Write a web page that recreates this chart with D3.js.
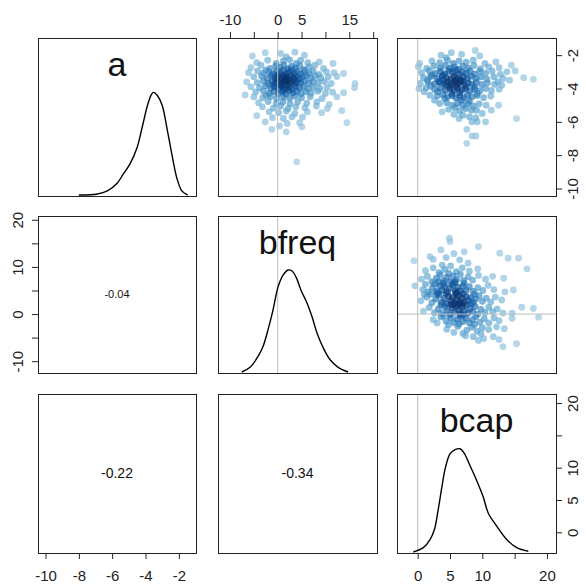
<!DOCTYPE html>
<html>
<head>
<meta charset="utf-8">
<script src="https://cdn.jsdelivr.net/npm/d3@7"></script>
<style>
  body { margin: 0; background: #fff; }
  text { font-family: "Liberation Sans", Arial, sans-serif; }
</style>
</head>
<body>
<script>

// variable names on the diagonal
var varNames = ["a", "bfreq", "bcap"];

// axis ticks and the labels R kept (overlapping ones dropped)
var aTicks = [-10, -8, -6, -4, -2];
var bfreqTicks = [-10, -5, 0, 5, 10, 15, 20];
var bfreqTopLabels = [-10, 0, 5, 15];
var bfreqLeftLabels = [-10, 0, 10, 20];
var bcapTicks = [0, 5, 10, 15, 20];
var bcapLabels = [0, 5, 10, 20];

// correlations shown in the lower panels
var corrValues = ["-0.04", "-0.22", "-0.34"];
var corrCells = [[1, 0], [2, 0], [2, 1]];

// density curves: [value, density relative to peak]
var aDensity = [[-8.0, 0], [-6.88, 0.01], [-6.29, 0.04], [-5.7, 0.115], [-5.35, 0.2], [-4.94, 0.3],
  [-4.53, 0.45], [-4.17, 0.68], [-3.88, 0.875], [-3.64, 0.98], [-3.53, 1.0], [-3.29, 0.97],
  [-3.0, 0.875], [-2.7, 0.64], [-2.41, 0.39], [-2.11, 0.16], [-1.82, 0.04], [-1.47, 0]];
var bfreqDensity = [[-7.53, 0], [-5.79, 0.046], [-4.11, 0.153], [-3.07, 0.25], [-2.02, 0.415],
  [-0.97, 0.61], [0.08, 0.835], [1.13, 0.95], [2.18, 1.0], [3.01, 0.99], [3.85, 0.93], [4.9, 0.8],
  [6.16, 0.675], [7.21, 0.54], [8.25, 0.38], [9.51, 0.24], [10.98, 0.12], [12.66, 0.046], [14.75, 0]];
var bcapDensity = [[-0.68, 0], [0.87, 0.042], [1.91, 0.12], [2.6, 0.22], [3.2, 0.42], [3.72, 0.62], [4.3, 0.82],
  [5.0, 0.95], [5.78, 0.99], [6.55, 1.0], [7.17, 0.96], [8.1, 0.835], [9.14, 0.69], [10.16, 0.53],
  [10.93, 0.375], [12.23, 0.25], [13.78, 0.12], [15.33, 0.042], [17.12, 0.007]];

// scatter points: [x, y]
var bfreqVsA = [
  [-2.6,-1.85],[0.6,-1.9],[3.6,-1.82],[5.6,-2.0],[1.8,-2.1],[-5.3,-2.05],
  [-4.4,-2.45],[-2.1,-2.3],[-0.3,-2.5],[1.2,-2.35],[2.5,-2.28],[3.9,-2.5],[4.8,-2.32],[6.3,-2.45],[8.7,-2.4],[11.6,-2.5],
  [-5.6,-2.75],[-3.5,-2.6],[-1.6,-2.8],[-0.4,-2.65],[0.5,-2.72],[1.3,-2.6],[2.1,-2.82],[2.9,-2.68],[3.7,-2.78],[4.6,-2.62],
  [5.5,-2.85],[6.6,-2.7],[7.8,-2.6],[9.6,-2.8],[13.8,-3.1],[-2.5,-2.9],
  [-6.1,-3.05],[-4.2,-2.95],[-3.0,-3.1],[-1.9,-2.98],[-1.0,-3.12],[-0.2,-2.95],[0.5,-3.05],[1.1,-2.92],[1.7,-3.15],[2.3,-3.0],
  [2.9,-2.9],[3.4,-3.1],[4.1,-2.97],[4.8,-3.12],[5.6,-2.96],[6.5,-3.08],[7.4,-2.94],[8.6,-3.15],[10.2,-3.0],[11.8,-3.05],[0.0,-3.2],
  [-5.0,-3.3],[-3.4,-3.25],[-2.2,-3.38],[-1.3,-3.22],[-0.6,-3.35],[0.1,-3.28],[0.7,-3.4],[1.2,-3.25],[1.8,-3.33],[2.3,-3.42],
  [2.8,-3.24],[3.3,-3.36],[3.9,-3.27],[4.5,-3.4],[5.2,-3.3],[6.0,-3.22],[6.9,-3.38],[7.8,-3.26],[9.0,-3.35],[10.6,-3.3],
  [12.4,-3.28],[1.5,-3.48],[-0.2,-3.45],[3.6,-3.5],
  [-6.5,-3.6],[-4.3,-3.65],[-3.0,-3.55],[-2.0,-3.7],[-1.2,-3.58],[-0.5,-3.66],[0.2,-3.55],[0.8,-3.7],[1.3,-3.6],[1.9,-3.52],
  [2.4,-3.68],[2.9,-3.58],[3.5,-3.72],[4.1,-3.6],[4.8,-3.66],[5.6,-3.55],[6.5,-3.7],[7.4,-3.6],[8.5,-3.65],[9.8,-3.58],
  [11.2,-3.7],[16.2,-3.7],[0.5,-3.8],[2.0,-3.82],[-0.9,-3.8],
  [-5.6,-3.9],[-3.8,-3.95],[-2.5,-3.85],[-1.4,-4.0],[-0.6,-3.9],[0.2,-3.98],[0.9,-3.88],[1.6,-4.02],[2.3,-3.92],[3.0,-4.05],
  [3.7,-3.88],[4.5,-3.97],[5.4,-3.9],[6.4,-4.02],[7.5,-3.92],[8.8,-4.0],[10.3,-3.95],[13.8,-4.25],[16.1,-3.95],[-6.8,-4.39],[1.2,-4.1],
  [-4.6,-4.2],[-3.0,-4.15],[-1.8,-4.28],[-0.8,-4.18],[0.1,-4.3],[0.9,-4.2],[1.7,-4.32],[2.4,-4.15],[3.2,-4.26],[4.0,-4.18],
  [4.9,-4.3],[5.9,-4.2],[7.0,-4.28],[8.4,-4.16],[10.0,-4.3],[11.5,-4.22],[-2.4,-4.4],
  [-5.0,-4.5],[-3.1,-4.55],[-1.5,-4.48],[-0.2,-4.6],[1.2,-4.5],[2.5,-4.58],[3.6,-4.45],[5.0,-4.55],[6.8,-4.5],[9.3,-4.6],[12.4,-4.5],
  [-4.0,-4.85],[-2.0,-4.78],[-0.3,-4.9],[1.1,-4.8],[2.6,-4.92],[4.2,-4.8],[6.1,-4.88],[8.2,-4.8],[10.8,-4.95],
  [-3.2,-5.1],[-0.9,-5.18],[0.6,-5.05],[2.2,-5.2],[3.8,-5.1],[5.7,-5.15],[8.1,-5.05],[10.4,-5.2],
  [-4.4,-5.63],[-1.8,-5.4],[0.2,-5.45],[1.8,-5.35],[3.6,-5.5],[6.2,-5.4],[9.2,-5.45],[13.4,-5.33],
  [-1.1,-5.75],[1.2,-5.8],[3.0,-5.7],[5.2,-5.72],
  [-2.6,-6.0],[2.0,-6.1],[4.6,-6.05],[14.5,-6.05],
  [5.05,-6.3],[0.4,-6.25],[-1.2,-6.45],[1.8,-6.6],
  [4.0,-8.4]
];

var bcapVsA = [
  [3.6,-2.0],[5.2,-1.85],[6.8,-1.95],[8.9,-1.72],[9.6,-2.05],[4.4,-2.15],
  [0.3,-2.5],[2.2,-2.35],[3.4,-2.45],[4.6,-2.3],[5.5,-2.5],[6.4,-2.35],[7.5,-2.42],[8.6,-2.3],[10.4,-2.5],[12.1,-2.4],
  [0.1,-2.69],[1.4,-2.8],[2.5,-2.65],[3.5,-2.78],[4.3,-2.62],[5.0,-2.8],[5.7,-2.7],[6.3,-2.85],[7.0,-2.66],[7.8,-2.78],
  [8.7,-2.62],[9.7,-2.82],[11.0,-2.7],[12.6,-2.75],[15.1,-2.95],[14.5,-2.6],
  [0.6,-3.05],[1.8,-2.95],[2.7,-3.1],[3.5,-2.98],[4.2,-3.12],[4.8,-2.94],[5.4,-3.05],[5.9,-2.92],[6.4,-3.15],[6.9,-3.0],
  [7.5,-3.1],[8.1,-2.95],[8.8,-3.12],[9.6,-2.98],[10.5,-3.08],[11.5,-2.96],[12.8,-3.15],[16.4,-3.35],[2.2,-3.2],[13.8,-3.0],[3.9,-3.22],
  [0.9,-3.35],[2.0,-3.28],[3.0,-3.4],[3.8,-3.25],[4.5,-3.35],[5.1,-3.45],[5.6,-3.28],[6.1,-3.38],[6.6,-3.48],[7.1,-3.3],
  [7.7,-3.42],[8.3,-3.26],[9.0,-3.4],[9.8,-3.3],[10.7,-3.44],[11.8,-3.3],[13.2,-3.4],[5.8,-3.52],[4.0,-3.5],[6.9,-3.55],
  [1.5,-3.5],[3.3,-3.58],[12.4,-3.6],[14.2,-3.5],
  [0.4,-3.7],[1.6,-3.6],[2.6,-3.72],[3.4,-3.62],[4.1,-3.7],[4.7,-3.6],[5.2,-3.75],[5.7,-3.64],[6.2,-3.72],[6.7,-3.6],
  [7.2,-3.78],[7.8,-3.66],[8.4,-3.74],[9.1,-3.62],[9.9,-3.76],[10.8,-3.66],[11.9,-3.75],[17.9,-3.45],[13.0,-3.8],[6.0,-3.85],
  [5.0,-3.9],[7.5,-3.9],[2.0,-3.85],[4.4,-3.8],[8.8,-3.9],
  [0.2,-4.0],[1.3,-3.95],[2.6,-4.05],[3.5,-3.98],[4.3,-4.1],[5.0,-4.0],[5.6,-4.12],[6.2,-3.98],[6.8,-4.1],[7.4,-4.02],
  [8.1,-4.14],[8.8,-4.04],[9.6,-4.15],[10.5,-4.0],[11.4,-4.12],[12.6,-4.05],[3.1,-4.2],[6.5,-4.25],[5.3,-4.3],[9.2,-4.3],[1.0,-4.2],
  [1.9,-4.4],[3.0,-4.45],[3.9,-4.38],[4.6,-4.5],[5.3,-4.42],[5.9,-4.55],[6.5,-4.45],[7.1,-4.55],[7.7,-4.4],[8.4,-4.5],
  [9.2,-4.42],[10.2,-4.55],[11.3,-4.45],[4.2,-4.6],[6.8,-4.7],[8.0,-4.75],[2.6,-4.7],
  [3.4,-4.9],[4.5,-4.85],[5.4,-5.0],[6.2,-4.88],[7.0,-5.0],[7.8,-4.9],[8.6,-5.05],[9.5,-4.92],[10.6,-5.0],[5.8,-5.15],
  [7.4,-5.2],[4.8,-5.25],[8.3,-5.3],[6.5,-5.35],[9.1,-5.3],[3.8,-5.4],[12.5,-5.0],[11.4,-5.3],[10.0,-5.5],
  [5.6,-5.55],[7.0,-5.6],[8.0,-5.7],[6.4,-5.8],[9.0,-5.75],[15.3,-5.81],[8.4,-6.0],[9.2,-6.0],[10.5,-6.0],
  [7.6,-6.45],[8.4,-6.85],[9.0,-6.85],[7.6,-7.29]
];

var bcapVsBfreq = [
  [13.2,-6.9],[15.3,-6.3],
  [8.6,-4.8],[10.2,-5.2],[11.7,-4.8],[9.4,-5.6],[12.6,-5.4],[7.4,-4.6],
  [4.5,-3.2],[6.2,-2.6],[7.6,-3.4],[8.4,-2.8],[9.2,-3.6],[10.0,-2.9],[11.0,-3.3],[12.2,-2.7],[5.6,-3.9],[13.4,-3.1],[7.0,-4.1],[9.8,-4.2],
  [2.4,-1.2],[3.6,-0.6],[4.4,-1.5],[5.1,-0.8],[5.6,-1.8],[6.1,-1.1],[6.6,-0.4],[7.0,-1.6],[7.5,-0.9],[8.0,-1.9],
  [8.5,-1.2],[9.0,-0.5],[9.6,-1.7],[10.3,-1.0],[11.0,-1.9],[11.8,-0.8],[12.6,-1.4],[14.6,-0.9],[18.7,-0.67],[6.4,-2.1],
  [8.8,-2.2],[4.8,-2.2],[3.0,-1.9],
  [0.9,0.6],[1.8,1.4],[2.6,0.3],[3.2,1.1],[3.7,0.2],[4.2,1.6],[4.6,0.7],[5.0,-0.1],[5.3,1.3],[5.7,0.4],
  [6.0,1.7],[6.3,0.9],[6.6,0.1],[6.9,1.5],[7.2,0.6],[7.5,1.9],[7.8,0.2],[8.1,1.2],[8.5,0.5],[8.9,1.6],
  [9.3,0.0],[9.8,1.0],[10.4,0.3],[11.0,1.4],[11.6,0.5],[12.3,1.1],[13.2,0.2],[14.6,0.2],[16.1,1.45],[17.9,1.2],
  [5.5,2.0],[6.8,2.1],[4.0,-0.3],[7.0,-0.2],[8.3,2.2],
  [0.5,2.8],[1.4,3.6],[2.2,2.4],[2.8,3.2],[3.3,4.0],[3.7,2.5],[4.1,3.3],[4.5,2.2],[4.8,3.8],[5.1,2.8],
  [5.4,3.5],[5.7,2.3],[6.0,3.1],[6.3,3.9],[6.6,2.6],[6.9,3.4],[7.2,2.4],[7.5,3.7],[7.8,2.9],[8.2,3.5],
  [8.6,2.5],[9.0,3.2],[9.5,3.9],[10.0,2.7],[10.6,3.4],[11.3,2.6],[12.0,3.6],[13.0,3.0],[3.0,4.3],[4.4,4.4],
  [5.9,4.4],[7.0,4.3],[2.0,4.2],[1.0,4.1],[8.8,4.2],[5.2,2.0],[6.4,2.1],[3.6,2.0],
  [-0.41,6.0],[0.8,5.2],[1.6,4.7],[2.3,5.6],[2.9,4.8],[3.4,6.0],[3.8,5.1],[4.2,5.8],[4.6,4.7],[5.0,5.5],
  [5.4,6.2],[5.8,4.9],[6.2,5.7],[6.6,4.8],[7.0,5.9],[7.5,5.0],[8.0,5.8],[8.6,4.8],[9.3,5.6],[10.1,5.0],
  [10.9,6.1],[11.8,5.2],[13.5,4.7],[14.8,5.1],[1.2,6.3],[2.6,6.4],[4.0,6.5],[5.6,6.6],[7.2,6.5],[3.2,4.5],[6.0,4.5],
  [0.6,7.4],[1.5,8.0],[2.2,6.9],[2.9,7.6],[3.5,8.3],[4.0,7.0],[4.5,7.8],[5.0,6.9],[5.5,8.1],[6.0,7.3],
  [6.6,8.4],[7.1,7.1],[7.8,7.9],[8.5,7.2],[9.4,8.2],[10.5,7.4],[13.3,7.6],[3.2,6.8],[5.8,6.8],[11.6,8.0],[4.8,8.6],
  [1.2,9.2],[2.4,9.8],[3.3,8.8],[4.2,9.5],[5.1,10.2],[6.0,9.0],[6.9,9.8],[8.0,9.1],[9.3,9.6],[16.9,9.6],[3.8,10.4],[7.8,10.8],
  [-0.57,11.3],[1.9,12.2],[2.4,11.6],[6.5,11.5],[4.4,12.0],[5.6,12.8],[14.0,11.85],[15.6,11.85],[12.7,12.9],[9.4,14.3],
  [4.9,16.1],[5.0,15.4],[3.6,13.6],[7.2,13.2]
];

var densities = [aDensity, bfreqDensity, bcapDensity];
var scatterSets = { "0-1": bfreqVsA, "0-2": bcapVsA, "1-2": bcapVsBfreq };

// value ranges of each variable (data range plus R's 4% padding)
var domains = [[-10.45, -0.97], [-12.5, 20.8], [-3.2, 21.4]];

var width = 585,
    height = 587;

// panel edges in pixels
var colX = [[38, 196], [218, 377], [397, 556]],
    rowY = [[38, 196], [216, 373], [394, 553]];

var blues = ["#9ECAE1", "#6BAED6", "#4292C6", "#2171B5", "#08519C", "#08306B"];

var svg = d3.select("body")
    .append("svg")
    .attr("width", width)
    .attr("height", height);

function xScale(c) {
  return d3.scaleLinear().domain(domains[c]).range(colX[c]);
}
function yScale(r) {
  return d3.scaleLinear().domain(domains[r]).range([rowY[r][1], rowY[r][0]]);
}
function fmt(labels) {
  return function(d) { return labels.indexOf(d) >= 0 ? String(d) : ""; };
}

var defs = svg.append("defs");

for (var r = 0; r < 3; r++) {
  for (var c = 0; c < 3; c++) {
    var x = xScale(c),
        y = yScale(r),
        x0 = colX[c][0], x1 = colX[c][1],
        y0 = rowY[r][0], y1 = rowY[r][1];
    var clipId = "clip" + r + c;
    defs.append("clipPath").attr("id", clipId)
      .append("rect").attr("x", x0).attr("y", y0).attr("width", x1 - x0).attr("height", y1 - y0);

    var panel = svg.append("g").attr("clip-path", "url(#" + clipId + ")");

    if (r === c) {
      // density curve on the diagonal
      var yd = d3.scaleLinear().domain([0, 1.52]).range([y1 - 1, y0 + 1]);
      if (domains[c][0] < 0 && domains[c][1] > 0) {
        panel.append("line")
          .attr("x1", x(0)).attr("x2", x(0)).attr("y1", y0).attr("y2", y1)
          .attr("stroke", "#bebebe").attr("stroke-width", 1);
      }
      panel.append("path")
        .datum(densities[c])
        .attr("fill", "none")
        .attr("stroke", "#000")
        .attr("stroke-width", 1.4)
        .attr("d", d3.line()
          .x(function(d) { return x(d[0]); })
          .y(function(d) { return yd(d[1]); })
          .curve(d3.curveCatmullRom));
      svg.append("text")
        .attr("x", (x0 + x1) / 2)
        .attr("y", y0 + 38)
        .attr("text-anchor", "middle")
        .attr("font-size", 34)
        .attr("fill", "#111")
        .text(varNames[c]);
    } else if (r < c) {
      // scatter coloured by local point density, like densCols()
      var pts = scatterSets[r + "-" + c];
      var px = pts.map(function(p) { return [x(p[0]), y(p[1])]; });
      var h = 9;
      var dens = px.map(function(p) {
        return d3.sum(px, function(q) {
          var dx = p[0] - q[0], dy = p[1] - q[1];
          return Math.exp(-(dx * dx + dy * dy) / (2 * h * h));
        });
      });
      var maxD = d3.max(dens);
      var color = d3.scaleSequential(d3.interpolateRgbBasis(blues)).domain([0, 1]);
      var order = d3.range(pts.length).sort(function(i, j) { return dens[i] - dens[j]; });

      panel.selectAll(".pt")
        .data(order)
        .enter()
        .append("circle")
        .attr("class", "pt")
        .attr("cx", function(i) { return px[i][0]; })
        .attr("cy", function(i) { return px[i][1]; })
        .attr("r", 3.4)
        .attr("fill", function(i) { return color(Math.pow(dens[i] / maxD, 1.4)); })
        .attr("fill-opacity", 0.7);

      if (domains[c][0] < 0 && domains[c][1] > 0) {
        panel.append("line")
          .attr("x1", x(0)).attr("x2", x(0)).attr("y1", y0).attr("y2", y1)
          .attr("stroke", "#bebebe").attr("stroke-width", 1);
      }
      if (domains[r][0] < 0 && domains[r][1] > 0) {
        panel.append("line")
          .attr("x1", x0).attr("x2", x1).attr("y1", y(0)).attr("y2", y(0))
          .attr("stroke", "#bebebe").attr("stroke-width", 1);
      }
    }

    // panel frame
    svg.append("rect")
      .attr("x", x0 + 0.5).attr("y", y0 + 0.5)
      .attr("width", x1 - x0).attr("height", y1 - y0)
      .attr("fill", "none")
      .attr("stroke", "#222")
      .attr("stroke-width", 1);
  }
}

// correlation text in the lower panels
corrCells.forEach(function(cell, i) {
  var r = cell[0], c = cell[1];
  svg.append("text")
    .attr("x", (colX[c][0] + colX[c][1]) / 2)
    .attr("y", (rowY[r][0] + rowY[r][1]) / 2)
    .attr("dy", "0.35em")
    .attr("text-anchor", "middle")
    .attr("font-size", Math.abs(+corrValues[i]) < 0.1 ? 11 : 14)
    .attr("fill", "#111")
    .text(corrValues[i]);
});

// axes, alternating sides like pairs()
function styleAxis(g) {
  g.select(".domain").remove();
  g.selectAll("line").attr("stroke", "#222");
  g.selectAll("text").attr("font-size", 15).attr("fill", "#222")
    .attr("font-family", "Liberation Sans, Arial, sans-serif");
}

svg.append("g")
  .attr("transform", "translate(0," + rowY[0][0] + ")")
  .call(d3.axisTop(xScale(1)).tickValues(bfreqTicks).tickSize(6).tickPadding(7).tickFormat(fmt(bfreqTopLabels)))
  .call(styleAxis);

svg.append("g")
  .attr("transform", "translate(0," + rowY[2][1] + ")")
  .call(d3.axisBottom(xScale(0)).tickValues(aTicks).tickSize(6).tickPadding(11).tickFormat(fmt(aTicks)))
  .call(styleAxis);

svg.append("g")
  .attr("transform", "translate(0," + rowY[2][1] + ")")
  .call(d3.axisBottom(xScale(2)).tickValues(bcapTicks).tickSize(6).tickPadding(11).tickFormat(fmt(bcapLabels)))
  .call(styleAxis);

function rotateLabels(g, shift) {
  g.selectAll("text")
    .attr("x", 0)
    .attr("dy", "0.35em")
    .attr("text-anchor", "middle")
    .attr("transform", "translate(" + shift + ",0) rotate(-90)");
}

svg.append("g")
  .attr("transform", "translate(" + colX[0][0] + ",0)")
  .call(d3.axisLeft(yScale(1)).tickValues(bfreqTicks).tickSize(6).tickFormat(fmt(bfreqLeftLabels)))
  .call(styleAxis)
  .call(rotateLabels, -20);

svg.append("g")
  .attr("transform", "translate(" + colX[2][1] + ",0)")
  .call(d3.axisRight(yScale(0)).tickValues(aTicks).tickSize(6).tickFormat(fmt(aTicks)))
  .call(styleAxis)
  .call(rotateLabels, 17);

svg.append("g")
  .attr("transform", "translate(" + colX[2][1] + ",0)")
  .call(d3.axisRight(yScale(2)).tickValues(bcapTicks).tickSize(6).tickFormat(fmt(bcapLabels)))
  .call(styleAxis)
  .call(rotateLabels, 17);

</script>
</body>
</html>
